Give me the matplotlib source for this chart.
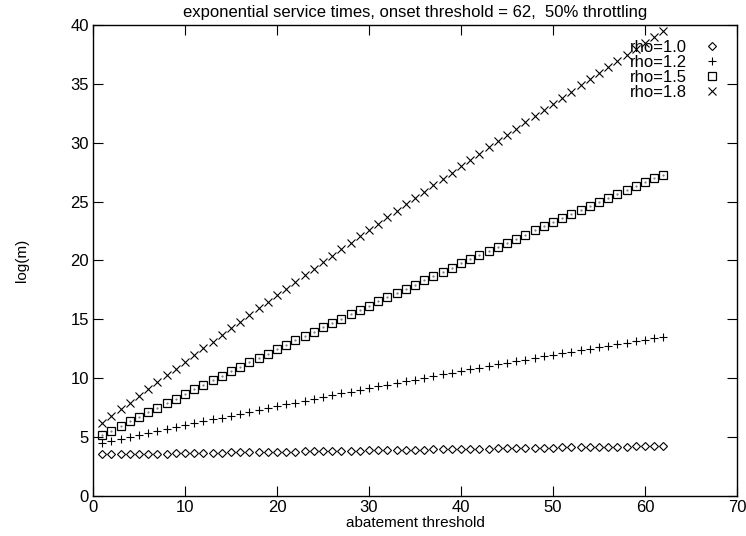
import matplotlib
matplotlib.use("Agg")
import matplotlib.pyplot as plt

plt.rcParams['font.family'] = ['Liberation Sans', 'DejaVu Sans']

# abatement threshold values (1 .. 62)
threshold = list(range(1, 63))

rho_10 = [3.53, 3.54, 3.55, 3.57, 3.58, 3.59, 3.60, 3.61, 3.62, 3.64,
          3.65, 3.66, 3.67, 3.68, 3.70, 3.71, 3.72, 3.73, 3.74, 3.75,
          3.77, 3.78, 3.79, 3.80, 3.81, 3.83, 3.84, 3.85, 3.86, 3.87,
          3.88, 3.90, 3.91, 3.92, 3.93, 3.94, 3.95, 3.97, 3.98, 3.99,
          4.00, 4.01, 4.03, 4.04, 4.05, 4.06, 4.07, 4.08, 4.10, 4.11,
          4.12, 4.13, 4.14, 4.16, 4.17, 4.18, 4.19, 4.20, 4.21, 4.23,
          4.24, 4.25]

rho_12 = [4.47, 4.64, 4.82, 4.99, 5.16, 5.33, 5.50, 5.67, 5.83, 6.00,
          6.17, 6.33, 6.50, 6.66, 6.82, 6.98, 7.14, 7.30, 7.46, 7.62,
          7.78, 7.94, 8.09, 8.25, 8.40, 8.55, 8.71, 8.86, 9.01, 9.16,
          9.31, 9.45, 9.60, 9.75, 9.89, 10.04, 10.18, 10.33, 10.47, 10.61,
          10.75, 10.89, 11.03, 11.17, 11.30, 11.44, 11.58, 11.71, 11.85, 11.98,
          12.11, 12.24, 12.37, 12.50, 12.63, 12.76, 12.89, 13.01, 13.14, 13.26,
          13.39, 13.51]

rho_15 = [5.17, 5.56, 5.96, 6.35, 6.74, 7.12, 7.51, 7.90, 8.28, 8.67,
          9.05, 9.44, 9.82, 10.20, 10.58, 10.96, 11.34, 11.71, 12.09, 12.46,
          12.84, 13.21, 13.58, 13.95, 14.32, 14.69, 15.06, 15.43, 15.79, 16.16,
          16.52, 16.88, 17.24, 17.60, 17.96, 18.32, 18.68, 19.04, 19.39, 19.75,
          20.10, 20.46, 20.81, 21.16, 21.51, 21.86, 22.20, 22.55, 22.90, 23.24,
          23.59, 23.93, 24.27, 24.61, 24.95, 25.29, 25.63, 25.96, 26.30, 26.63,
          26.97, 27.30]

rho_18 = [6.20, 6.78, 7.36, 7.94, 8.52, 9.10, 9.67, 10.25, 10.82, 11.39,
          11.97, 12.54, 13.10, 13.67, 14.24, 14.80, 15.37, 15.93, 16.49, 17.05,
          17.61, 18.17, 18.73, 19.28, 19.83, 20.39, 20.94, 21.49, 22.04, 22.59,
          23.14, 23.68, 24.23, 24.77, 25.31, 25.85, 26.39, 26.93, 27.47, 28.01,
          28.54, 29.07, 29.61, 30.14, 30.67, 31.20, 31.73, 32.25, 32.78, 33.30,
          33.83, 34.35, 34.87, 35.39, 35.91, 36.42, 36.94, 37.45, 37.97, 38.48,
          38.99, 39.50]

fig = plt.figure(figsize=(7.46, 5.36), dpi=100)
ax = fig.add_axes([0.1247, 0.0746, 0.8633, 0.8788])

ax.plot(threshold, rho_10, linestyle='none', marker='D', markersize=3.8,
        markerfacecolor='none', markeredgecolor='black', markeredgewidth=0.8,
        label='rho=1.0')
ax.plot(threshold, rho_12, linestyle='none', marker='+', markersize=6,
        color='black', markeredgewidth=0.8, label='rho=1.2')
ax.plot(threshold, rho_15, linestyle='none', marker='s', markersize=5.2,
        markerfacecolor='none', markeredgecolor='black', markeredgewidth=0.9,
        label='rho=1.5')
ax.plot(threshold, rho_15, linestyle='none', marker='.', markersize=1.2,
        color='#777777')
ax.plot(threshold, rho_18, linestyle='none', marker='x', markersize=5.2,
        color='black', markeredgewidth=0.8, label='rho=1.8')

ax.set_xlim(0, 70)
ax.set_ylim(0, 40)
ax.set_xticks(range(0, 71, 10))
ax.set_yticks(range(0, 41, 5))
ax.tick_params(direction='in', length=7, width=0.8, top=True, right=True,
               labelsize=12, pad=3)
for s in ax.spines.values():
    s.set_linewidth(1.0)

ax.set_title('exponential service times, onset threshold = 62,  50% throttling',
             fontsize=12, pad=6)
ax.set_xlabel('abatement threshold', fontsize=11, labelpad=0.5)
ax.set_ylabel('log(m)', fontsize=11, labelpad=30)

ax.legend(loc='upper right', frameon=False, markerfirst=False, fontsize=12,
          handlelength=1.2, handletextpad=0.9, labelspacing=0.0,
          borderaxespad=0.5)

fig.savefig('out.png', dpi=100)
